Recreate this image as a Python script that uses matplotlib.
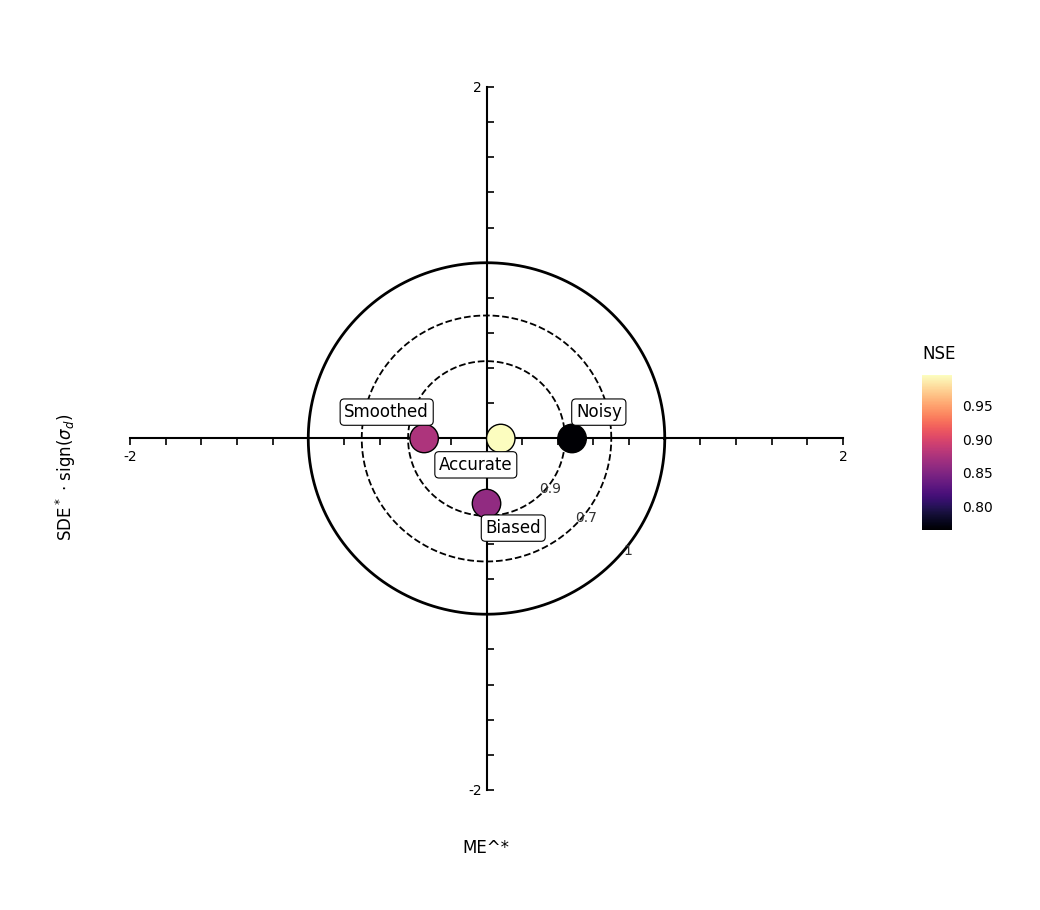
import numpy as np
import matplotlib.pyplot as plt
from matplotlib import cm, colors

# data
names = ['Accurate', 'Noisy', 'Smoothed', 'Biased']
me = [0.08, 0.48, -0.35, 0.0]
sde = [0.0, 0.0, 0.0, -0.37]
nse = [0.995, 0.765, 0.875, 0.86]
label_x = [-0.06, 0.63, -0.56, 0.15]
label_y = [-0.15, 0.15, 0.15, -0.51]
circle_r = [1.0, 0.70, 0.44]
circle_lab = ['1', '0.7', '0.9']

fig = plt.figure(figsize=(10.4, 9.1), dpi=100)
ax = fig.add_axes([0.125, 0.1319, 0.6856, 0.7725])
ax.set_xlim(-2, 2)
ax.set_ylim(-2, 2)

for s in ['top', 'right']:
    ax.spines[s].set_visible(False)
ax.spines['left'].set_position(('data', 0))
ax.spines['bottom'].set_position(('data', 0))
for s in ['left', 'bottom']:
    ax.spines[s].set_linewidth(1.5)

ticks = np.round(np.arange(-2, 2.01, 0.2), 1)
ticklabs = ['-2' if t == -2 else '2' if t == 2 else '' for t in ticks]
ax.set_xticks(ticks)
ax.set_xticklabels(ticklabs)
ax.set_yticks(ticks)
ax.set_yticklabels(ticklabs)
ax.tick_params(axis='x', direction='out', length=5, width=1.2, labelsize=10)
ax.tick_params(axis='y', direction='in', length=5, width=1.2, labelsize=10)

th = np.linspace(0, 2 * np.pi, 400)
for r, lab in zip(circle_r, circle_lab):
    ls = '-' if r == 1.0 else '--'
    lw = 2 if r == 1.0 else 1.3
    ax.plot(r * np.cos(th), r * np.sin(th), color='black', ls=ls, lw=lw)
    a = np.deg2rad(-39)
    ax.text((r + 0.02) * np.cos(a), (r + 0.02) * np.sin(a), lab,
            fontsize=10, color='#333333', ha='center', va='center')

norm = colors.Normalize(vmin=0.765, vmax=0.995)
sc = ax.scatter(me, sde, c=nse, cmap='magma', norm=norm, s=420,
                edgecolors='black', linewidths=1, zorder=5)
for n, lx, ly in zip(names, label_x, label_y):
    ax.text(lx, ly, n, fontsize=12, ha='center', va='center', zorder=6,
            bbox=dict(boxstyle='round,pad=0.25', fc='white', ec='black', lw=0.8))

fig.text(0.4675, 0.068, 'ME^*', fontsize=12, ha='center', va='center')
fig.text(0.063, 0.475, r'SDE$^*$ $\cdot$ sign($\sigma_d$)', fontsize=12,
         rotation=90, ha='center', va='center')

cax = fig.add_axes([0.8865, 0.4176, 0.029, 0.170])
cb = fig.colorbar(sc, cax=cax)
cb.set_ticks([0.80, 0.85, 0.90, 0.95])
cb.outline.set_visible(False)
cax.tick_params(color='white', length=4, labelsize=10)
cax.set_title('NSE', fontsize=12, loc='left', pad=12)

fig.savefig('out.png', dpi=100)
